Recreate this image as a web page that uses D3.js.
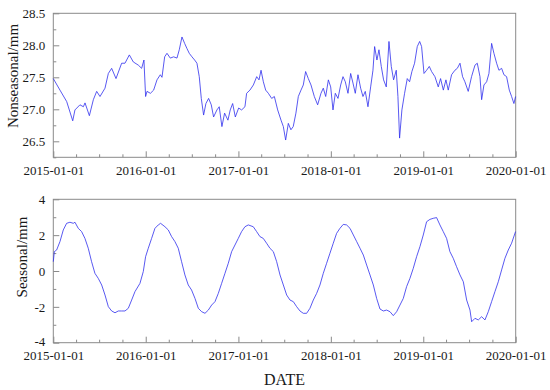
<!DOCTYPE html>
<html>
<head>
<meta charset="utf-8">
<script src="https://cdn.jsdelivr.net/npm/d3@7"></script>
<style>
  body { margin: 0; background: #fff; }
  text { font-family: "Liberation Serif", "Times New Roman", serif; fill: #1a1a1a; }
</style>
</head>
<body>
<svg id="chart" width="550" height="390"></svg>
<script>
"use strict";

// time is in years after 2015-01-01
const nsTime = [0, .072, .145, .21, .234, .288, .325, .343, .39, .433, .469, .505, .559, .595, .631, .678, .739, .775, .822, .865, .919, .955, .98, .998,
    1.013, 1.05, 1.085, 1.121, 1.157, 1.175, 1.204, 1.229, 1.265, 1.301, 1.337, 1.362, 1.391, 1.42, 1.445, 1.47, 1.499, 1.528, 1.553, 1.578, 1.6, 1.625, 1.65, 1.679, 1.708, 1.733, 1.769, 1.794, 1.823, 1.852, 1.888, 1.913, 1.939, 1.968, 2.004,
    2.036, 2.072, 2.09, 2.126, 2.163, 2.199, 2.224, 2.246, 2.271, 2.296, 2.325, 2.361, 2.39, 2.426, 2.462, 2.487, 2.512, 2.541, 2.569, 2.594, 2.623, 2.649, 2.678, 2.703, 2.728, 2.757, 2.786, 2.822, 2.858, 2.894, 2.919, 2.945, 2.974,
    2.999, 3.024, 3.049, 3.078, 3.107, 3.132, 3.157, 3.186, 3.215, 3.24, 3.265, 3.294, 3.323, 3.348, 3.373, 3.402, 3.431, 3.456, 3.474, 3.499, 3.521, 3.546, 3.571, 3.6, 3.629, 3.654, 3.679, 3.708, 3.726, 3.744, 3.769, 3.798, 3.827, 3.852, 3.877, 3.906, 3.935, 3.961,
    3.982, 4.008, 4.036, 4.065, 4.09, 4.126, 4.162, 4.187, 4.217, 4.245, 4.27, 4.306, 4.342, 4.368, 4.397, 4.425, 4.45, 4.486, 4.522, 4.559, 4.584, 4.613, 4.631, 4.656, 4.685, 4.71, 4.739, 4.764, 4.793, 4.818, 4.847, 4.872, 4.901, 4.93, 4.955, 4.98, 4.998];
const nsValue = [27.48, 27.3, 27.12, 26.82, 26.99, 27.07, 27.04, 27.1, 26.9, 27.15, 27.28, 27.2, 27.33, 27.56, 27.64, 27.48, 27.72, 27.72, 27.85, 27.74, 27.69, 27.64, 27.77, 27.2,
    27.28, 27.25, 27.3, 27.46, 27.54, 27.5, 27.82, 27.875, 27.8, 27.82, 27.8, 27.93, 28.13, 28.03, 27.95, 27.875, 27.82, 27.77, 27.72, 27.51, 27.17, 26.91, 27.09, 27.17, 27.07, 26.88, 26.99, 27.04, 26.73, 26.94, 26.83, 26.99, 27.09, 26.88, 27.02,
    26.99, 27.04, 27.25, 27.3, 27.38, 27.51, 27.46, 27.61, 27.43, 27.3, 27.25, 27.17, 27.2, 26.99, 26.83, 26.73, 26.52, 26.78, 26.68, 26.73, 26.94, 27.2, 27.3, 27.38, 27.59, 27.48, 27.38, 27.2, 27.07, 27.25, 27.33, 27.2, 27.46,
    27.35, 26.99, 27.25, 27.17, 27.38, 27.51, 27.43, 27.25, 27.56, 27.41, 27.25, 27.54, 27.33, 27.2, 27.28, 27.04, 27.35, 27.61, 27.98, 27.77, 27.93, 27.67, 27.46, 27.35, 28.06, 27.67, 27.46, 27.61, 27.2, 26.55, 26.99, 27.25, 27.48, 27.43, 27.59, 27.72, 27.98, 28.06,
    27.98, 27.56, 27.61, 27.67, 27.59, 27.51, 27.35, 27.48, 27.3, 27.46, 27.3, 27.54, 27.61, 27.64, 27.72, 27.51, 27.43, 27.28, 27.51, 27.69, 27.72, 27.51, 27.15, 27.38, 27.43, 27.56, 28.03, 27.875, 27.72, 27.61, 27.64, 27.54, 27.51, 27.3, 27.2, 27.09, 27.2];

const sTime = [0, .011, .036, .072, .108, .144, .18, .216, .234, .27, .306, .342, .378, .414, .45, .486, .523, .559, .595, .631, .667, .703, .739, .775, .811, .847, .883, .937, .973, .998,
    1.027, 1.063, 1.099, 1.135, 1.16, 1.207, 1.243, 1.279, 1.315, 1.351, 1.387, 1.423, 1.459, 1.495, 1.532, 1.568, 1.604, 1.64, 1.676, 1.712, 1.748, 1.784, 1.82, 1.856, 1.892, 1.928, 1.964,
    2.0, 2.036, 2.072, 2.108, 2.162, 2.198, 2.234, 2.27, 2.306, 2.342, 2.379, 2.415, 2.451, 2.487, 2.523, 2.559, 2.595, 2.631, 2.667, 2.703, 2.739, 2.775, 2.811, 2.847, 2.883, 2.919, 2.955, 2.991,
    3.027, 3.063, 3.099, 3.135, 3.171, 3.208, 3.244, 3.28, 3.316, 3.352, 3.388, 3.424, 3.46, 3.496, 3.532, 3.568, 3.604, 3.64, 3.676, 3.712, 3.748, 3.784, 3.82, 3.856, 3.892, 3.928, 3.964,
    4.0, 4.036, 4.072, 4.108, 4.144, 4.18, 4.216, 4.252, 4.288, 4.324, 4.36, 4.397, 4.433, 4.469, 4.505, 4.523, 4.559, 4.595, 4.631, 4.667, 4.703, 4.739, 4.775, 4.811, 4.847, 4.883, 4.919, 4.955, 4.998];
const sValue = [0.52, 1.08, 1.17, 1.64, 2.29, 2.66, 2.72, 2.66, 2.72, 2.38, 2.2, 1.82, 1.27, 0.52, -0.13, -0.41, -0.78, -1.34, -1.99, -2.23, -2.33, -2.23, -2.23, -2.23, -2.08, -1.62, -1.15, -0.69, -0.03, 0.8,
    1.27, 1.82, 2.38, 2.57, 2.66, 2.47, 2.29, 1.92, 1.64, 1.27, 0.52, -0.22, -0.78, -1.06, -1.53, -2.08, -2.27, -2.36, -2.18, -1.9, -1.71, -1.25, -0.69, -0.13, 0.43, 1.08, 1.45,
    1.82, 2.2, 2.47, 2.57, 2.47, 2.2, 1.92, 1.82, 1.55, 1.27, 1.08, 0.52, -0.22, -0.78, -1.34, -1.62, -1.71, -1.99, -2.23, -2.36, -2.36, -2.08, -1.62, -1.25, -0.78, -0.13, 0.43, 0.99,
    1.55, 2.1, 2.38, 2.6, 2.57, 2.38, 2.01, 1.64, 1.27, 0.89, 0.33, -0.22, -0.78, -1.53, -2.12, -2.23, -2.18, -2.27, -2.49, -2.27, -1.9, -1.53, -0.87, -0.41, 0.15, 0.8, 1.36,
    2.01, 2.75, 2.88, 2.94, 2.98, 2.57, 2.2, 1.82, 1.08, 0.71, 0.24, -0.22, -0.6, -1.62, -2.18, -2.83, -2.64, -2.73, -2.55, -2.73, -2.27, -1.71, -1.15, -0.6, 0.06, 0.71, 1.17, 1.55, 2.2];

const yearTicks = ["2015-01-01", "2016-01-01", "2017-01-01", "2018-01-01", "2019-01-01", "2020-01-01"];
const nsTicks = [26.5, 27.0, 27.5, 28.0, 28.5];
const sTicks = [-4, -2, 0, 2, 4];

const svg = d3.select("#chart");
const parse = d3.timeParse("%Y-%m-%d");
const start = parse(yearTicks[0]);
const toDate = t => new Date(start.getTime() + t * 365.25 * 864e5);

const left = 53.3, right = 515.7;
const x = d3.scaleTime()
    .domain([start, parse(yearTicks[yearTicks.length - 1])])
    .range([left, right]);

const quarters = d3.timeMonth.every(3).range(start, x.domain()[1])
    .filter(d => d.getMonth() !== 0);

const frameColor = "#8a8a8a";
const lineColor = "#2f2fee";

function panel(top, bottom, domain, ticks, minorStep, fmt, times, values, title, titleX, titleY, xPad) {
    const y = d3.scaleLinear().domain(domain).range([bottom, top]);
    const g = svg.append("g");

    // x axis, ticks point inward
    g.append("g")
        .attr("transform", `translate(0,${bottom})`)
        .call(d3.axisBottom(x)
            .tickValues(yearTicks.map(parse))
            .tickFormat(d3.timeFormat("%Y-%m-%d"))
            .tickSizeInner(-6).tickSizeOuter(0).tickPadding(xPad));
    g.append("g")
        .attr("transform", `translate(0,${bottom})`)
        .call(d3.axisBottom(x).tickValues(quarters).tickFormat("")
            .tickSizeInner(-3).tickSizeOuter(0));

    // y axis
    const yAxis = g.append("g")
        .attr("transform", `translate(${left},0)`)
        .call(d3.axisLeft(y).tickValues(ticks).tickFormat(fmt)
            .tickSizeInner(-6).tickSizeOuter(0).tickPadding(8));
    const minors = d3.range(domain[0], domain[1] + 1e-9, minorStep)
        .filter(v => !ticks.some(t => Math.abs(t - v) < 1e-9));
    g.append("g")
        .attr("transform", `translate(${left},0)`)
        .call(d3.axisLeft(y).tickValues(minors).tickFormat("")
            .tickSizeInner(-3).tickSizeOuter(0));

    g.selectAll(".domain").remove();
    g.selectAll("g").attr("font-family", null);
    g.selectAll(".tick line").attr("stroke", frameColor);
    g.selectAll(".tick text").style("font-size", "13px").attr("fill", "#1a1a1a");
    // lowest y label sits a little higher so it clears the date labels
    yAxis.selectAll(".tick text").filter(d => d === domain[0]).attr("dy", "0.2em");

    g.append("rect")
        .attr("x", left).attr("y", top)
        .attr("width", right - left).attr("height", bottom - top)
        .attr("fill", "none").attr("stroke", frameColor).attr("stroke-width", 1);

    const line = d3.line()
        .x((d, i) => x(toDate(times[i])))
        .y(d => y(d));
    g.append("path")
        .datum(values)
        .attr("d", line)
        .attr("fill", "none")
        .attr("stroke", lineColor)
        .attr("stroke-width", 0.8);

    g.append("text")
        .attr("transform", `translate(${titleX},${titleY}) rotate(-90)`)
        .attr("text-anchor", "middle")
        .attr("dy", "0.35em")
        .style("font-size", "15px")
        .text(title);
}

panel(13.3, 157.3, [26.25, 28.5], nsTicks, 0.25, d3.format(".1f"),
    nsTime, nsValue, "Nonseasonal/mm", 13, 76, 8);
panel(199.3, 342.7, [-4, 4], sTicks, 1, d => String(d),
    sTime, sValue, "Seasonal/mm", 22, 257, 8);

svg.append("text")
    .attr("x", (left + right) / 2)
    .attr("y", 385)
    .attr("text-anchor", "middle")
    .style("font-size", "16px")
    .text("DATE");
</script>
</body>
</html>
